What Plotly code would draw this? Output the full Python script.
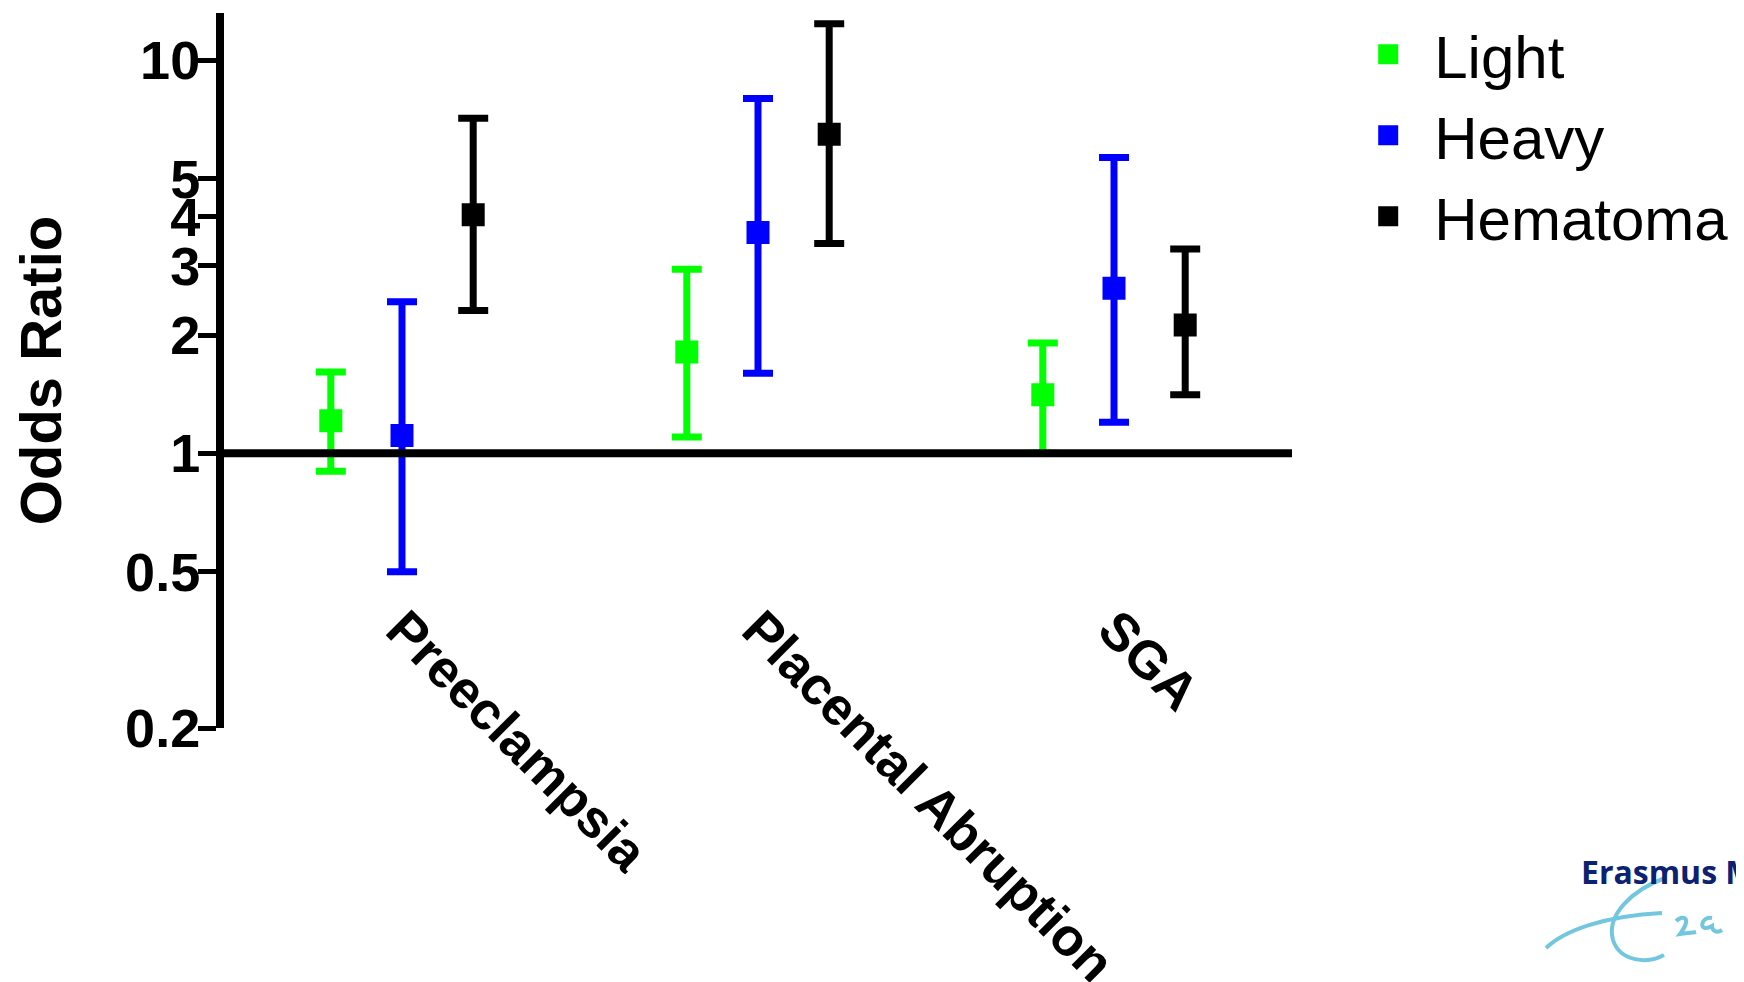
import math
import plotly.graph_objects as go

# ---------------- data ----------------
categories = ["Preeclampsia", "Placental Abruption", "SGA"]
series_names = ["Light", "Heavy", "Hematoma"]
series_colors = ["#00FF00", "#0000FF", "#000000"]

light_or = [1.21, 1.81, 1.41]
light_lo = [0.90, 1.10, 1.00]
light_hi = [1.61, 2.94, 1.91]

heavy_or = [1.11, 3.65, 2.63]
heavy_lo = [0.50, 1.60, 1.20]
heavy_hi = [2.43, 8.00, 5.66]

hema_or = [4.05, 6.49, 2.12]
hema_lo = [2.31, 3.42, 1.41]
hema_hi = [7.12, 12.4, 3.31]

ytick_vals = [0.2, 0.5, 1, 2, 3, 4, 5, 10]
ytick_text = ["0.2", "0.5", "1", "2", "3", "4", "5", "10"]
y_min, y_max = 0.2, 13.2
ref_value = 1

# ---------------- figure ----------------
W, H = 1744, 982
OFF = 8  # page body margin
ML, MR, MT, MB = 216, 460, 5, 262

fig = go.Figure()
for name, col, est, lo, hi in zip(series_names, series_colors,
                                  [light_or, heavy_or, hema_or],
                                  [light_lo, heavy_lo, hema_lo],
                                  [light_hi, heavy_hi, hema_hi]):
    fig.add_trace(go.Scatter(
        x=categories, y=est, name=name, mode="markers",
        marker=dict(symbol="square", size=19, color=col, line=dict(width=4, color=col)),
        error_y=dict(type="data", symmetric=False,
                     array=[h - e for h, e in zip(hi, est)],
                     arrayminus=[e - l for e, l in zip(est, lo)],
                     color=col, thickness=7, width=15),
    ))

# reference line at OR = 1
fig.add_shape(type="line", xref="x", yref="y", x0=-0.5, x1=len(categories) - 0.5,
              y0=ref_value, y1=ref_value, line=dict(color="black", width=8), layer="above")

bold = dict(family="Liberation Sans, Arial, sans-serif", color="black", weight="bold")

fig.update_layout(
    width=W, height=H,
    margin=dict(l=ML, r=MR, t=MT, b=MB, pad=0, autoexpand=False),
    paper_bgcolor="white", plot_bgcolor="white",
    scattermode="group", scattergap=0.4,
    showlegend=True,
    legend=dict(x=1.047, y=1.006, xanchor="left", yanchor="top",
                font=dict(family="Liberation Sans, Arial, sans-serif", size=60, color="black"),
                bgcolor="rgba(0,0,0,0)", itemwidth=82),
    xaxis=dict(type="category", range=[-0.5, len(categories) - 0.5],
               showline=False, showgrid=False, zeroline=False, ticks="",
               tickangle=45, tickfont=dict(size=53, **bold),
               anchor="free", position=0.198, automargin=False),
    yaxis=dict(type="log", range=[math.log10(y_min), math.log10(y_max)],
               showline=True, linewidth=8, linecolor="black",
               ticks="outside", ticklen=18, tickwidth=5, tickcolor="black",
               tickvals=ytick_vals, ticktext=ytick_text, ticklabelstandoff=-13,
               tickfont=dict(size=54, **bold), automargin=False,
               showgrid=False, zeroline=False,
               title=dict(text="Odds Ratio", font=dict(size=58, **bold), standoff=67)),
)

# Erasmus MC logo (decorative), positions given in page pixels
def px(X, Y):
    return (X - OFF - ML) / (W - ML - MR), (H - MB + OFF - Y) / (H - MT - MB)

lx, ly = px(1579, 895)
fig.add_annotation(xref="paper", yref="paper", x=lx, y=ly, xanchor="left", yanchor="bottom",
                   text="Erasmus MC", showarrow=False,
                   font=dict(family="Open Sans, sans-serif", size=32, color="#0b2171", weight="bold"))

def bez(points):
    p = [px(*q) for q in points]
    s = f"M {p[0][0]},{p[0][1]}"
    for i in range(1, len(p), 3):
        s += f" C {p[i][0]},{p[i][1]} {p[i+1][0]},{p[i+1][1]} {p[i+2][0]},{p[i+2][1]}"
    return s

swoosh_tail = [(1546, 948), (1565, 930), (1605, 916), (1662, 913)]
swoosh_e = [(1665, 878), (1632, 890), (1606, 915), (1613, 940),
            (1620, 962), (1648, 964), (1664, 955)]
swoosh_z = [(1676, 921), (1684, 914), (1692, 918), (1680, 934),
            (1686, 933), (1692, 933), (1696, 932)]
swoosh_a = [(1712, 918), (1700, 916), (1698, 934), (1712, 926),
            (1712, 930), (1716, 934), (1722, 930)]
for path in (bez(swoosh_tail), bez(swoosh_e), bez(swoosh_z), bez(swoosh_a)):
    fig.add_shape(type="path", xref="paper", yref="paper", path=path,
                  line=dict(color="#72c7de", width=4))

fig.write_html("out.html")
